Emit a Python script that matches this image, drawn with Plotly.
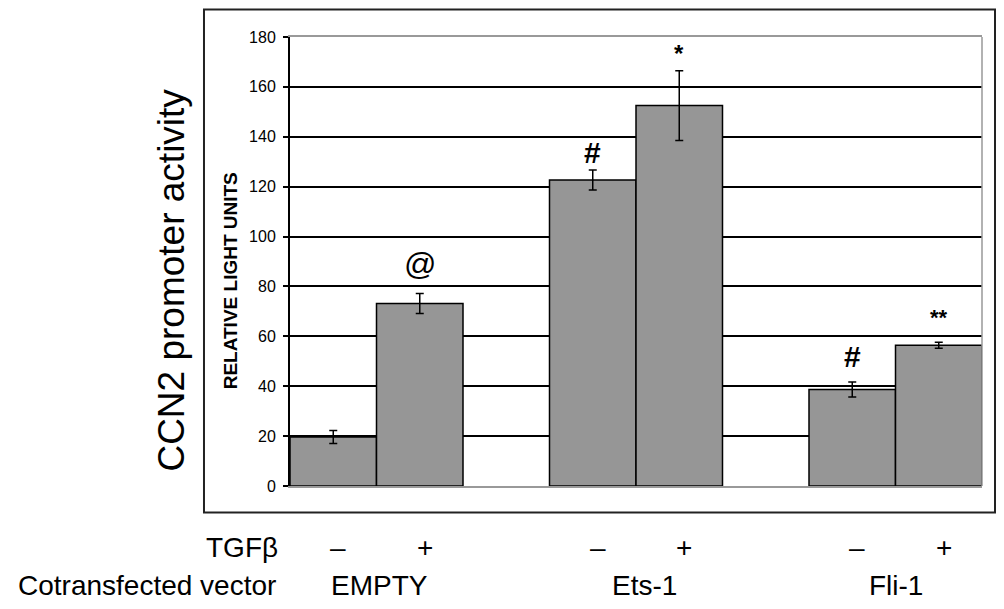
import plotly.graph_objects as go

groups = ["EMPTY", "Ets-1", "Fli-1"]
minus_vals = [19.6, 122.7, 38.7]
minus_err = [2.6, 4.0, 3.0]
plus_vals = [73.2, 152.5, 56.4]
plus_err = [4.0, 14.0, 1.2]
sig_minus = ["", "#", "#"]
sig_plus = ["@", "*", "**"]
y_ticks = [0, 20, 40, 60, 80, 100, 120, 140, 160, 180]

FONT = "Liberation Sans, Arial, sans-serif"
BAR = "#969696"

fig = go.Figure()
for vals, errs, name in [(minus_vals, minus_err, "minus"), (plus_vals, plus_err, "plus")]:
    fig.add_trace(go.Bar(
        x=groups, y=vals, name=name,
        marker=dict(color=BAR, line=dict(color="black", width=1.5)),
        error_y=dict(type="data", array=errs, visible=True, color="black", thickness=1.5, width=4),
        showlegend=False,
    ))

ann = []
sig_style = {"@": (32, False, 29), "#": (30, True, 17), "*": (24, True, 17), "**": (22, True, 25)}
for i in range(len(groups)):
    for off, vals, errs, sig in [(-1/6, minus_vals, minus_err, sig_minus), (1/6, plus_vals, plus_err, sig_plus)]:
        s = sig[i]
        if not s:
            continue
        size, bold, shift = sig_style[s]
        if s == "#" and i == 2:
            shift = 25
        ann.append(dict(x=i + off, y=vals[i] + errs[i], xref="x", yref="y",
                        text=f"<b>{s}</b>" if bold else s, showarrow=False,
                        yanchor="middle", yshift=shift,
                        font=dict(family=FONT, size=size, color="black")))

for i in range(len(groups)):
    for off, t in [(-1/6, "–"), (1/6, "+")]:
        ann.append(dict(x=i + off, y=-0.136, xref="x", yref="paper", text=t, showarrow=False,
                        xshift=5, yanchor="middle", font=dict(family=FONT, size=28, color="black")))
    ann.append(dict(x=i, y=-0.221, xref="x", yref="paper", text=groups[i], showarrow=False,
                    xshift=3 if i == 0 else (8 if i == 1 else 0), yanchor="middle",
                    font=dict(family=FONT, size=28, color="black")))

ann.append(dict(x=-0.014, y=-0.136, xref="paper", yref="paper", text="TGFβ", showarrow=False,
                xanchor="right", yanchor="middle", font=dict(family=FONT, size=28, color="black")))
ann.append(dict(x=-0.017, y=-0.221, xref="paper", yref="paper", text="Cotransfected vector", showarrow=False,
                xanchor="right", yanchor="middle", font=dict(family=FONT, size=28, color="black")))
ann.append(dict(x=-0.171, y=0.459, xref="paper", yref="paper", text="CCN2 promoter activity", showarrow=False,
                textangle=-90, xanchor="center", yanchor="middle", font=dict(family=FONT, size=37, color="black")))
ann.append(dict(x=-0.086, y=0.457, xref="paper", yref="paper", text="<b>RELATIVE LIGHT UNITS</b>", showarrow=False,
                textangle=-90, xanchor="center", yanchor="middle", font=dict(family=FONT, size=19, color="black")))

# page body has an 8px default margin, so the figure is 8px smaller and margins shifted
fig.update_layout(
    width=996, height=601,
    margin=dict(l=282, r=22, t=29, b=123),
    paper_bgcolor="white", plot_bgcolor="white",
    barmode="group", bargap=1/3, bargroupgap=0,
    annotations=ann,
    shapes=[
        dict(type="rect", xref="paper", yref="paper", x0=-0.1243, x1=1.0188, y0=-0.0591, y1=1.0613,
             line=dict(color="#222", width=2), layer="above"),
        dict(type="line", xref="paper", yref="paper", x0=1, x1=1, y0=0, y1=1,
             line=dict(color="#999", width=1.5)),
    ],
    xaxis=dict(range=[-1/3, 2 + 1/3], showticklabels=False, ticks="", showgrid=False,
               showline=True, linecolor="#999", linewidth=1.5, mirror=True, zeroline=False),
    yaxis=dict(range=[0, 180], tickvals=y_ticks, ticks="outside", ticklen=5, tickcolor="black", tickwidth=1.5,
               showline=True, linecolor="black", linewidth=2, showgrid=True, gridcolor="black", gridwidth=1.5,
               zeroline=False, ticklabelstandoff=4,
               tickfont=dict(family=FONT, size=16, color="black")),
)

fig.write_html("out.html")
